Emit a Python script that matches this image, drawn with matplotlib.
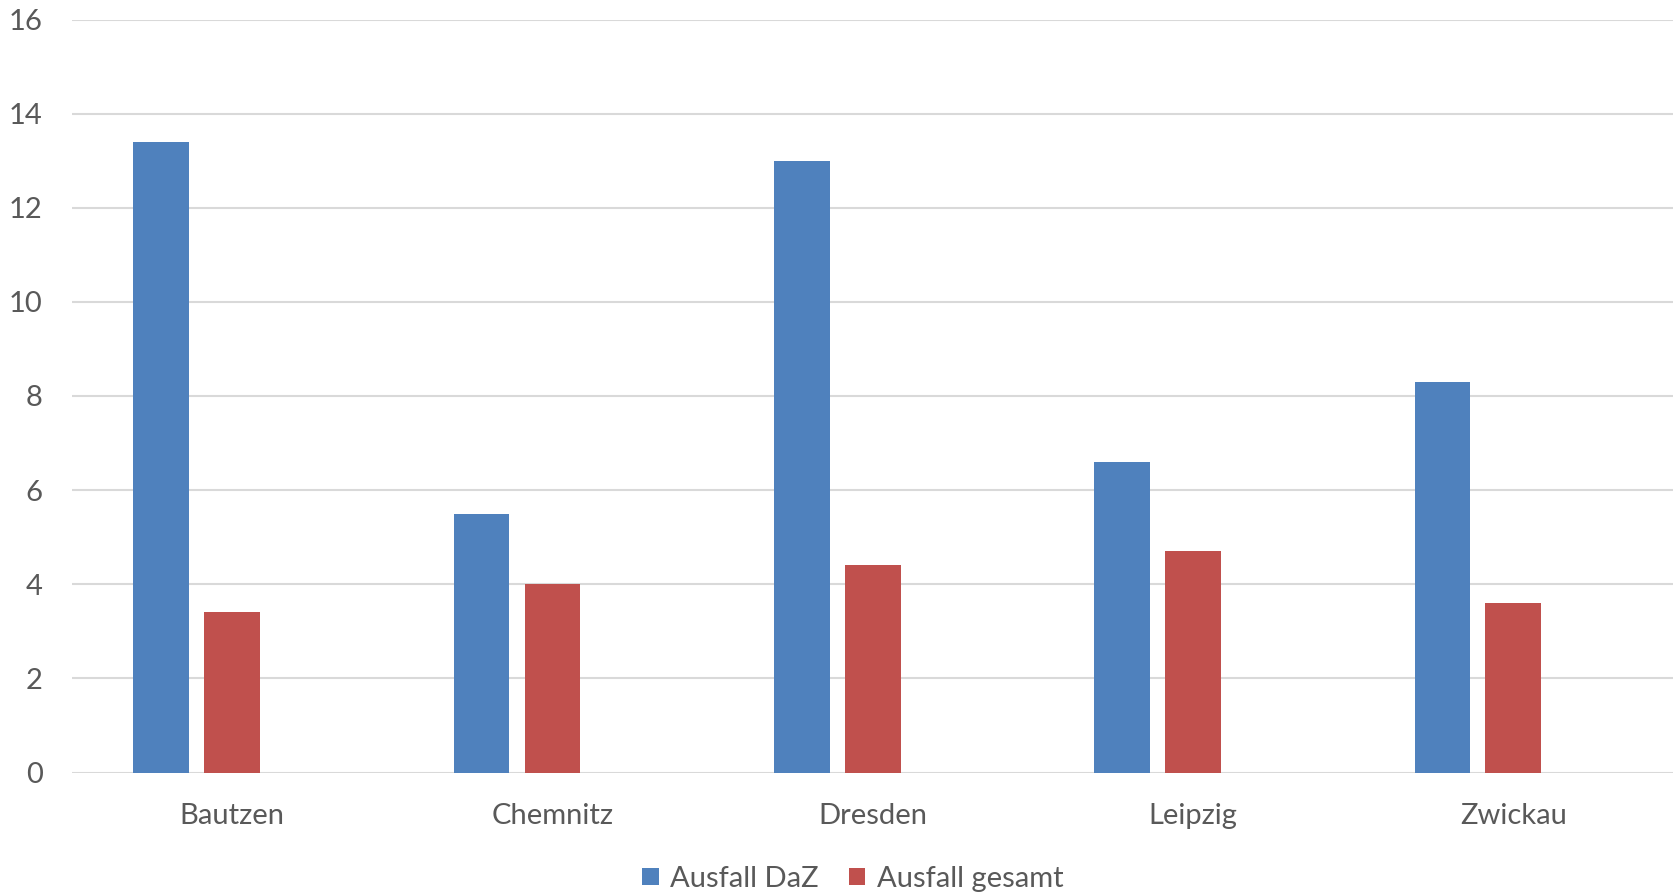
import numpy as np
from matplotlib import pyplot as plt

cities = ["Bautzen", "Chemnitz", "Dresden", "Leipzig", "Zwickau"]
ausfall_daz = [13.4, 5.5, 13.0, 6.6, 8.3]
ausfall_gesamt = [3.4, 4.0, 4.4, 4.7, 3.6]
y_ticks = [0, 2, 4, 6, 8, 10, 12, 14, 16]

blue = "#4F81BD"
red = "#C0504D"
grey_text = "#595959"

plt.rcParams["font.family"] = ["Lato", "DejaVu Sans"]

fig = plt.figure(figsize=(16.81, 8.94), dpi=100)
ax = fig.add_axes([72 / 1681, 1 - 772.5 / 894, (1673.5 - 72) / 1681, (772.5 - 19.5) / 894])

x = np.arange(len(cities))
w = 0.174
step = 0.2215
ax.bar(x - step, ausfall_daz, width=w, color=blue, label="Ausfall DaZ", zorder=3)
ax.bar(x, ausfall_gesamt, width=w, color=red, label="Ausfall gesamt", zorder=3)

ax.set_xlim(-0.5, len(cities) - 0.5)
ax.set_ylim(0, 16)
ax.set_yticks(y_ticks)
ax.set_xticks(x)
ax.set_xticklabels(cities)
ax.yaxis.grid(True, color="#d9d9d9", linewidth=1.5, zorder=0)
ax.set_axisbelow(True)
for s in ax.spines.values():
    s.set_visible(False)
ax.tick_params(axis="y", length=0, pad=21, labelsize=21, labelcolor=grey_text)
ax.tick_params(axis="x", length=0, pad=22, labelsize=21, labelcolor=grey_text)

fig.legend(loc="center", bbox_to_anchor=(0.5075, 1 - 879 / 894), ncol=2, frameon=False,
           fontsize=21, labelcolor=grey_text, handlelength=0.55, handleheight=0.55,
           handletextpad=0.4, columnspacing=1.05)

fig.savefig("out.png", dpi=100)
